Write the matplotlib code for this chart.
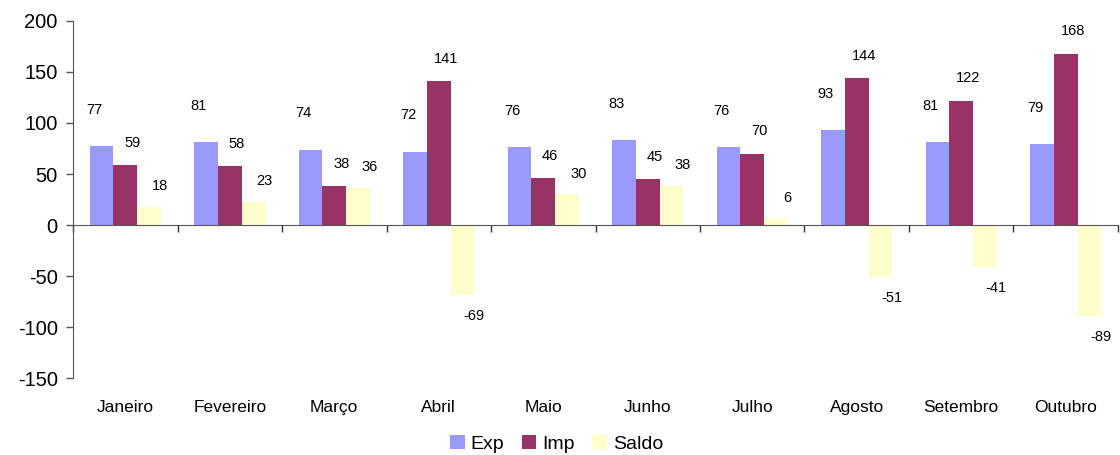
import matplotlib
matplotlib.use("Agg")
import matplotlib.pyplot as plt
import numpy as np
from matplotlib.transforms import blended_transform_factory

meses = ["Janeiro", "Fevereiro", "Março", "Abril", "Maio", "Junho",
         "Julho", "Agosto", "Setembro", "Outubro"]
exp_vals = [77, 81, 74, 72, 76, 83, 76, 93, 81, 79]
imp_vals = [59, 58, 38, 141, 46, 45, 70, 144, 122, 168]
saldo_vals = [18, 23, 36, -69, 30, 38, 6, -51, -41, -89]

EXP_C = "#9999FF"
IMP_C = "#993366"
SALDO_C = "#FFFFCC"

plt.rcParams.update({"font.family": ["Liberation Sans", "DejaVu Sans"],
                     "axes.unicode_minus": False})

fig = plt.figure(figsize=(11.2, 4.55), dpi=100)
ax = fig.add_axes([0.0652, 0.169, 0.933, 0.785])

x = np.arange(len(meses))
w = 0.228
series = [("Exp", exp_vals, EXP_C, -w, -5, 26),
          ("Imp", imp_vals, IMP_C, 0, 5, 16),
          ("Saldo", saldo_vals, SALDO_C, w, 8, 15)]

for name, vals, col, off, dx, dy in series:
    bars = ax.bar(x + off, vals, width=w, color=col, label=name, zorder=2)
    for b, v in zip(bars, vals):
        cx = b.get_x() + b.get_width() / 2
        oy = dy if v >= 0 else -dy
        ax.annotate(str(v), (cx, v), xytext=(dx, oy), textcoords="offset points",
                    ha="center", va="center", fontsize=10.5, color="black")

ax.set_ylim(-150, 200)
ax.set_xlim(-0.5, len(meses) - 0.5)
ax.set_yticks(np.arange(-150, 201, 50))
ax.tick_params(axis="y", labelsize=14.5, length=5, width=1, color="#555555", pad=6)

# category axis sits on the zero line, ticks between groups
for s in ["top", "right"]:
    ax.spines[s].set_visible(False)
ax.spines["bottom"].set_position(("data", 0))
ax.spines["bottom"].set_color("#555555")
ax.spines["left"].set_color("#555555")
ax.set_xticks(np.arange(-0.5, len(meses), 1.0))
ax.set_xticklabels([])
ax.tick_params(axis="x", length=5, width=1, color="#333333", direction="out")

tr = blended_transform_factory(ax.transData, ax.transAxes)
for i, m in enumerate(meses):
    ax.text(i, -0.083, m, transform=tr, ha="center", va="center", fontsize=12.5)

fig.legend(loc="center", bbox_to_anchor=(0.497, 0.024), ncol=3, frameon=False,
           fontsize=14, handlelength=0.75, handleheight=0.75, handletextpad=0.3,
           columnspacing=0.9, borderpad=0)

fig.savefig("out.png", dpi=100)
